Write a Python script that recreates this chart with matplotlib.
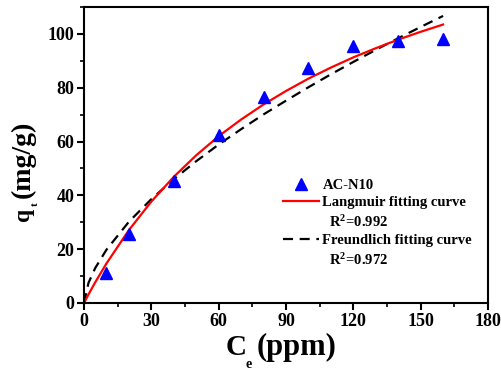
import matplotlib.pyplot as plt
from matplotlib.lines import Line2D
from matplotlib.ticker import MultipleLocator

plt.rcParams['font.family'] = 'Liberation Serif'
plt.rcParams['font.weight'] = 'bold'
plt.rcParams['mathtext.fontset'] = 'custom'
plt.rcParams['mathtext.rm'] = 'Liberation Serif:bold'
plt.rcParams['mathtext.bf'] = 'Liberation Serif:bold'
plt.rcParams['mathtext.it'] = 'Liberation Serif:bold'
plt.rcParams['mathtext.default'] = 'bf'

# dados experimentais
ce = [10, 20, 40, 60, 80, 100, 120, 140, 160]
qt = [11.1, 25.6, 45.5, 62.5, 76.7, 87.5, 95.6, 97.4, 98.0]

# curvas
c_fit = [0, 2, 5, 10, 20, 30, 40, 50, 60, 70, 80, 90, 100, 110, 120, 130, 140, 150, 160]
q_langmuir = [0, 3.2, 7.7, 14.7, 27.1, 37.7, 46.9, 54.9, 62.0, 68.2, 73.8, 78.8,
              83.4, 87.5, 91.3, 94.7, 97.9, 100.8, 103.5]
q_freundlich = [0, 7.5, 13.0, 19.8, 30.2, 38.6, 46.0, 52.7, 58.9, 64.6, 70.1, 75.2,
                80.2, 85.0, 89.6, 94.1, 98.4, 102.6, 106.7]

W, H = 501, 371
fig = plt.figure(figsize=(W / 100, H / 100), dpi=100)
ax = fig.add_axes([0.1677, 0.1833, 0.8063, 0.7977])

ax.plot(c_fit, q_freundlich, color='black', lw=1.6, linestyle=(0, (4.5, 3)))
ax.plot(c_fit, q_langmuir, color='red', lw=1.6)
ax.plot(ce, qt, linestyle='none', marker='^', color='blue', markersize=8.5)

ax.set_xlim(0, 180)
ax.set_ylim(0, 110)
ax.xaxis.set_major_locator(MultipleLocator(30))
ax.xaxis.set_minor_locator(MultipleLocator(15))
ax.yaxis.set_major_locator(MultipleLocator(20))
ax.yaxis.set_minor_locator(MultipleLocator(10))
ax.tick_params(which='major', direction='out', length=5, width=1.5, labelsize=13, pad=2)
ax.tick_params(which='minor', direction='out', length=3, width=1.2)
for s in ax.spines.values():
    s.set_linewidth(1.5)
for lab in ax.get_xticklabels() + ax.get_yticklabels():
    lab.set_fontweight('bold')


# rotulos dos eixos montados em partes (subscrito baixo como no Origin)
def px_text(x, y, s, size, rot=0):
    fig.text(x / W, 1 - y / H, s, fontsize=size, fontweight='bold',
             ha='left', va='baseline', rotation=rot, rotation_mode='anchor')


px_text(226, 355, 'C', 21)
px_text(245, 368, 'e', 10)
px_text(257, 355, '(ppm)', 22)

px_text(29, 221, 'q', 17, 90)
px_text(38, 206, 't', 8, 90)
px_text(30, 198, '(mg/g)', 20, 90)

handles = [
    Line2D([], [], linestyle='none', marker='^', color='blue', markersize=8),
    Line2D([], [], color='red', lw=1.6),
    Line2D([], [], color='none'),
    Line2D([], [], color='black', lw=1.6, linestyle=(0, (4.5, 3))),
    Line2D([], [], color='none'),
]
labels = ['AC-N10', 'Langmuir fitting curve', '  R$^2$=0.992',
          'Freundlich fitting curve', '  R$^2$=0.972']
leg = ax.legend(handles, labels, loc='upper left', bbox_to_anchor=(0.4926, 0.42),
                frameon=False, fontsize=10.5, handlelength=2.5, handletextpad=0.2,
                labelspacing=0.3, borderpad=0, borderaxespad=0)
for t in leg.get_texts():
    t.set_fontweight('bold')

fig.savefig('out.png', dpi=100)
